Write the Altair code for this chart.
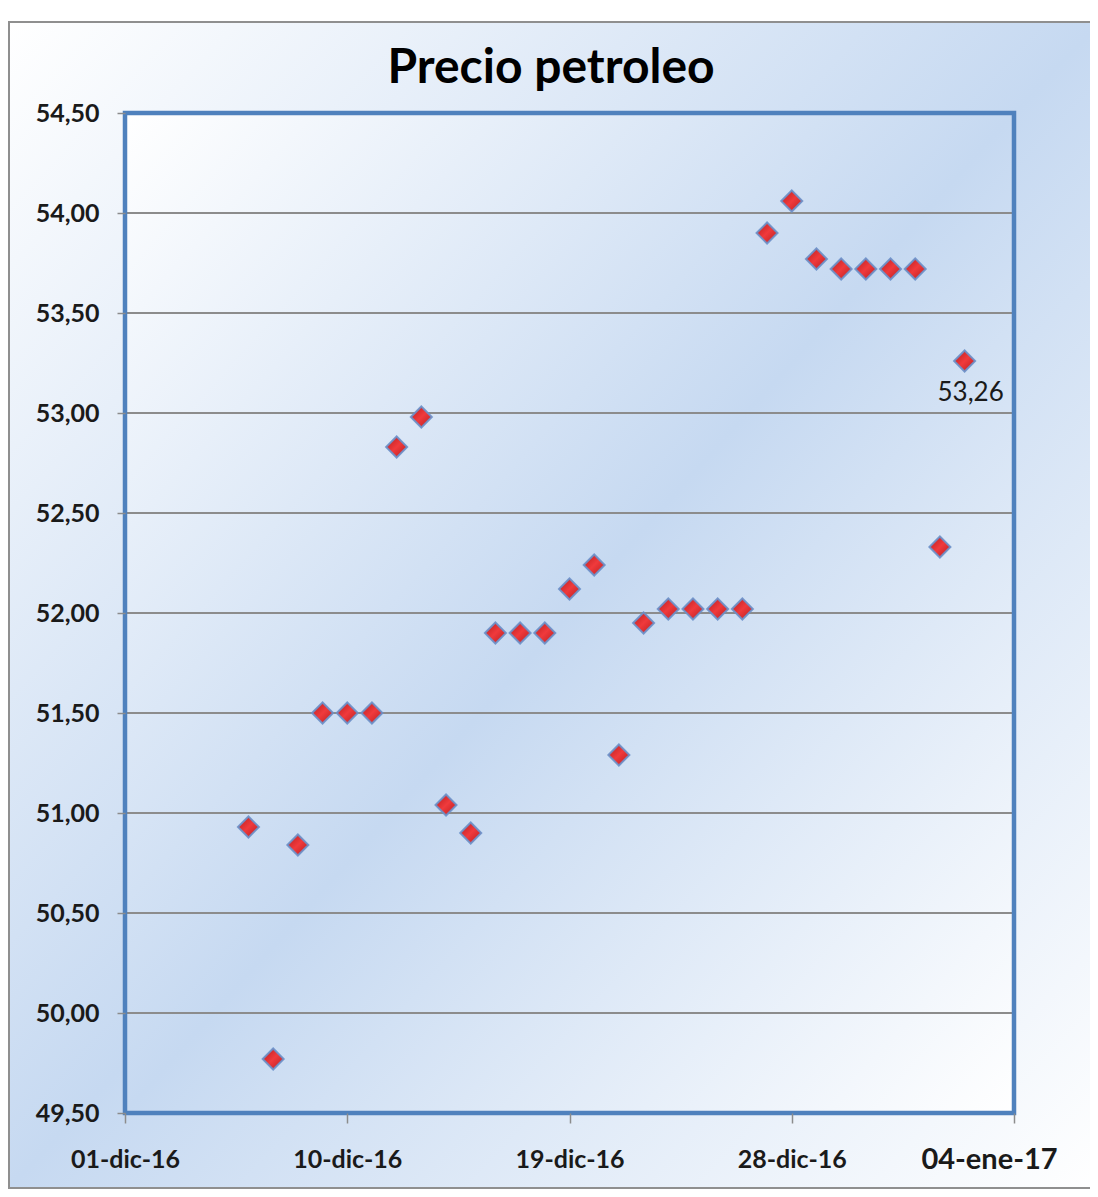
import altair as alt
import pandas as pd

# ---- data ----
dates = [
    "2016-12-06", "2016-12-07", "2016-12-08", "2016-12-09", "2016-12-10",
    "2016-12-11", "2016-12-12", "2016-12-13", "2016-12-14", "2016-12-15",
    "2016-12-16", "2016-12-17", "2016-12-18", "2016-12-19", "2016-12-20",
    "2016-12-21", "2016-12-22", "2016-12-23", "2016-12-24", "2016-12-25",
    "2016-12-26", "2016-12-27", "2016-12-28", "2016-12-29", "2016-12-30",
    "2016-12-31", "2017-01-01", "2017-01-02", "2017-01-03", "2017-01-04",
]
prices = [
    50.93, 49.77, 50.84, 51.50, 51.50,
    51.50, 52.83, 52.98, 51.04, 50.90,
    51.90, 51.90, 51.90, 52.12, 52.24,
    51.29, 51.95, 52.02, 52.02, 52.02,
    52.02, 53.90, 54.06, 53.77, 53.72,
    53.72, 53.72, 53.72, 52.33, 53.26,
]
x_domain = ["2016-12-01", "2017-01-06"]
x_tick_dates = ["2016-12-01", "2016-12-10", "2016-12-19", "2016-12-28", "2017-01-06"]
x_tick_labels = ["01-dic-16", "10-dic-16", "19-dic-16", "28-dic-16", "04-ene-17"]
y_ticks = [49.5, 50.0, 50.5, 51.0, 51.5, 52.0, 52.5, 53.0, 53.5, 54.0, 54.5]
title_text = "Precio petroleo"


def ms(d):
    return int(pd.Timestamp(d, tz="UTC").timestamp() * 1000)


tick_ms = [ms(d) for d in x_tick_dates]
dom_ms = [ms(d) for d in x_domain]

label_expr = "''"
for t, lab in reversed(list(zip(tick_ms, x_tick_labels))):
    label_expr = f"time(datum.value) == {t} ? '{lab}' : ({label_expr})"

df = pd.DataFrame({"date": dates, "price": prices})
df_last = pd.DataFrame({"date": [dates[-1]], "price": [prices[-1]]})
df_grid = pd.DataFrame({"y": y_ticks})
df_one = pd.DataFrame({"k": [0]})
df_title = pd.DataFrame({"t": [title_text]})

W, H = 889, 1000
FONT = "Lato"
TXT = "#1a1a1a"
GRAY = "#8c8c8c"

xscale = alt.Scale(type="utc", domain=dom_ms, nice=False)
yscale = alt.Scale(domain=[49.5, 54.5], nice=False, zero=False)

last_test = f"time(datum.value) == {tick_ms[-1]}"

x_axis = alt.Axis(
    values=tick_ms, labelExpr=label_expr, title=None, grid=False, domain=False,
    tickSize=10, tickColor=GRAY, tickWidth=1.5,
    labelFont=FONT, labelFontWeight="bold", labelColor=TXT,
    labelFontSize={"condition": {"test": last_test, "value": 29}, "value": 25},
    labelOffset={"condition": {"test": last_test, "value": -25}, "value": 0},
    labelPadding=36, labelBaseline="middle", labelOverlap=False, labelFlush=False,
    zindex=1,
)
y_axis = alt.Axis(
    values=y_ticks, format=".2f", labelExpr="replace(datum.label, '.', ',')",
    title=None, grid=False, domain=False,
    tickSize=8, tickColor=GRAY, tickWidth=1.5,
    labelFont=FONT, labelFontWeight="bold", labelColor=TXT, labelFontSize=25,
    labelPadding=18, labelOverlap=False, labelFlush=False, zindex=1,
)

diag_grad = {
    "gradient": "linear", "x1": 0, "y1": 0, "x2": 1, "y2": 1,
    "stops": [
        {"offset": 0.0, "color": "#ffffff"},
        {"offset": 0.5, "color": "#c6d9f1"},
        {"offset": 1.0, "color": "#ffffff"},
    ],
}
red_grad = {
    "gradient": "linear", "x1": 0, "y1": 0, "x2": 1, "y2": 1,
    "stops": [
        {"offset": 0.0, "color": "#b71c1e"},
        {"offset": 0.5, "color": "#f03a3c"},
        {"offset": 1.0, "color": "#b71c1e"},
    ],
}

deco = alt.Chart(df_one)

outer_bg = deco.mark_rect(fill=diag_grad, stroke="#8f8f8f", strokeWidth=2).encode(
    x=alt.value(-116), x2=alt.value(975), y=alt.value(-91), y2=alt.value(1075)
)

title = alt.Chart(df_title).mark_text(
    font=FONT, fontSize=48, fontWeight="bold", color="#000000",
    align="center", baseline="alphabetic",
).encode(text="t:N", x=alt.value(426), y=alt.value(-30))

plot_bg = deco.mark_rect(fill=diag_grad).encode(
    x=alt.value(0), x2=alt.value("width"), y=alt.value(0), y2=alt.value("height")
)

grid = alt.Chart(df_grid).mark_rule(color=GRAY, strokeWidth=2).encode(
    y=alt.Y("y:Q", scale=yscale, axis=y_axis)
)

points = alt.Chart(df).mark_point(
    shape="diamond", filled=True, size=440, fill=red_grad, opacity=1,
    stroke="#6a90c9", strokeWidth=2, strokeOpacity=0.9,
).encode(
    x=alt.X("date:T", scale=xscale, axis=x_axis),
    y=alt.Y("price:Q", scale=yscale, axis=y_axis),
)

label = alt.Chart(df_last).transform_calculate(
    txt="replace(format(datum.price, '.2f'), '.', ',')"
).mark_text(
    font=FONT, fontSize=26, color=TXT, dx=6, dy=32, baseline="middle", align="center"
).encode(
    x=alt.X("date:T", scale=xscale, axis=x_axis),
    y=alt.Y("price:Q", scale=yscale, axis=y_axis),
    text="txt:N",
)

border = deco.mark_rect(fill="transparent", stroke="#4f81bd", strokeWidth=4.5).encode(
    x=alt.value(0), x2=alt.value("width"), y=alt.value(0), y2=alt.value("height")
)

chart = alt.layer(outer_bg, title, plot_bg, grid, points, label, border).properties(
    width=W, height=H,
    autosize=alt.AutoSizeParams(type="none"),
    padding={"left": 117, "top": 105, "right": 76, "bottom": 76},
    background="#ffffff",
).configure_view(stroke=None)

chart.save("out.html", embed_options={"renderer": "svg", "actions": False})
